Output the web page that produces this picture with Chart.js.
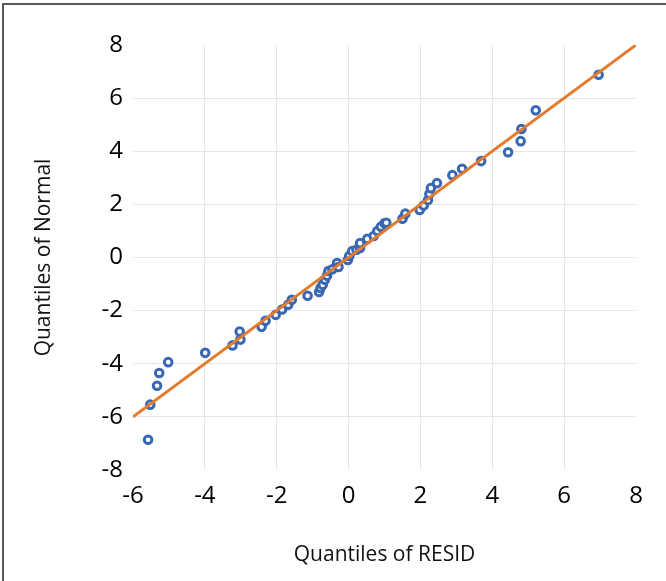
<!DOCTYPE html>
<html>
<head>
<meta charset="utf-8">
<script src="https://cdn.jsdelivr.net/npm/chart.js@4.4.1/dist/chart.umd.min.js"></script>
<style>
  html, body { margin: 0; padding: 0; background: #fff; }
  #wrap { position: relative; width: 666px; height: 581px; }
  #frame {
    position: absolute; left: 2px; top: 3px; right: -4px; bottom: -4px;
    border-top: 2px solid #5a5a5a; border-left: 2px solid #5a5a5a;
    pointer-events: none;
  }
</style>
</head>
<body>
<div id="wrap">
  <canvas id="qq" width="666" height="581"></canvas>
  <div id="frame"></div>
</div>
<script>
// sample quantiles of the residuals (x) against normal quantiles (y)
const residQuantiles = [
  -5.58, -5.52, -5.33, -5.27, -5.02, -3.99, -3.23, -3.03, -3.01, -2.42,
  -2.31, -2.03, -1.85, -1.68, -1.58, -1.14, -0.82, -0.78, -0.72, -0.66,
  -0.60, -0.56, -0.45, -0.32, -0.28, -0.02, 0.02, 0.10, 0.22, 0.32,
  0.32, 0.52, 0.70, 0.80, 0.90, 1.00, 1.05, 1.50, 1.58, 1.98,
  2.09, 2.21, 2.25, 2.29, 2.46, 2.89, 3.16, 3.69, 4.44, 4.79,
  4.81, 5.21, 6.96
];
const normalQuantiles = [
  -6.86, -5.54, -4.83, -4.35, -3.94, -3.59, -3.31, -2.79, -3.09, -2.61,
  -2.38, -2.16, -1.96, -1.78, -1.59, -1.44, -1.30, -1.15, -1.03, -0.84,
  -0.69, -0.51, -0.44, -0.21, -0.36, -0.09, 0.06, 0.24, 0.29, 0.36,
  0.54, 0.70, 0.81, 1.00, 1.16, 1.29, 1.31, 1.46, 1.65, 1.79,
  1.96, 2.16, 2.39, 2.61, 2.80, 3.10, 3.34, 3.63, 3.96, 4.38,
  4.84, 5.54, 6.88
];
// reference line y = x
const refLineX = [-6, 8];
const refLineY = [-6, 8];

const xTicks = [-6, -4, -2, 0, 2, 4, 6, 8];
const yTicks = [-8, -6, -4, -2, 0, 2, 4, 6, 8];

const points = residQuantiles.map((x, i) => ({ x: x, y: normalQuantiles[i] }));
const refLine = refLineX.map((x, i) => ({ x: x, y: refLineY[i] }));

const tickFont = { family: "'Open Sans', sans-serif", size: 24 };
const titleFont = { family: "'Open Sans', sans-serif", size: 21 };

// grid lines only inside the plot, not on the outer edges
const innerGrid = (min, max) => (ctx) =>
  ctx.tick && (ctx.tick.value === min || ctx.tick.value === max) ? "rgba(0,0,0,0)" : "#e6e6e6";

new Chart(document.getElementById("qq"), {
  type: "scatter",
  data: {
    datasets: [
      {
        type: "line",
        label: "Reference",
        data: refLine,
        borderColor: "#e47a2c",
        borderWidth: 3,
        pointRadius: 0,
        fill: false,
        order: 0,
      },
      {
        label: "RESID",
        data: points,
        borderColor: "#3868b4",
        backgroundColor: "#ffffff",
        borderWidth: 3,
        pointRadius: 3.8,
        order: 1,
      },
    ],
  },
  options: {
    responsive: false,
    animation: false,
    layout: { padding: { top: 45, right: 30, left: 31, bottom: 13 } },
    plugins: {
      legend: { display: false },
      tooltip: { enabled: false },
    },
    scales: {
      x: {
        type: "linear",
        min: xTicks[0],
        max: xTicks[xTicks.length - 1],
        afterBuildTicks: (axis) => { axis.ticks = xTicks.map((v) => ({ value: v })); },
        afterFit: (axis) => { axis.height = 98; },
        ticks: { font: tickFont, color: "#000", padding: 12 },
        grid: { color: innerGrid(-6, 8), drawTicks: false },
        border: { display: false },
        title: {
          display: true,
          text: "Quantiles of RESID",
          font: titleFont,
          color: "#111",
          padding: 0,
        },
      },
      y: {
        type: "linear",
        min: yTicks[0],
        max: yTicks[yTicks.length - 1],
        afterBuildTicks: (axis) => { axis.ticks = yTicks.map((v) => ({ value: v })); },
        afterFit: (axis) => { axis.width = 102; },
        ticks: { font: tickFont, color: "#000", padding: 10 },
        grid: { color: innerGrid(-8, 8), drawTicks: false },
        border: { display: false },
        title: {
          display: true,
          text: "Quantiles of Normal",
          font: titleFont,
          color: "#111",
          padding: 0,
        },
      },
    },
  },
});
</script>
</body>
</html>
